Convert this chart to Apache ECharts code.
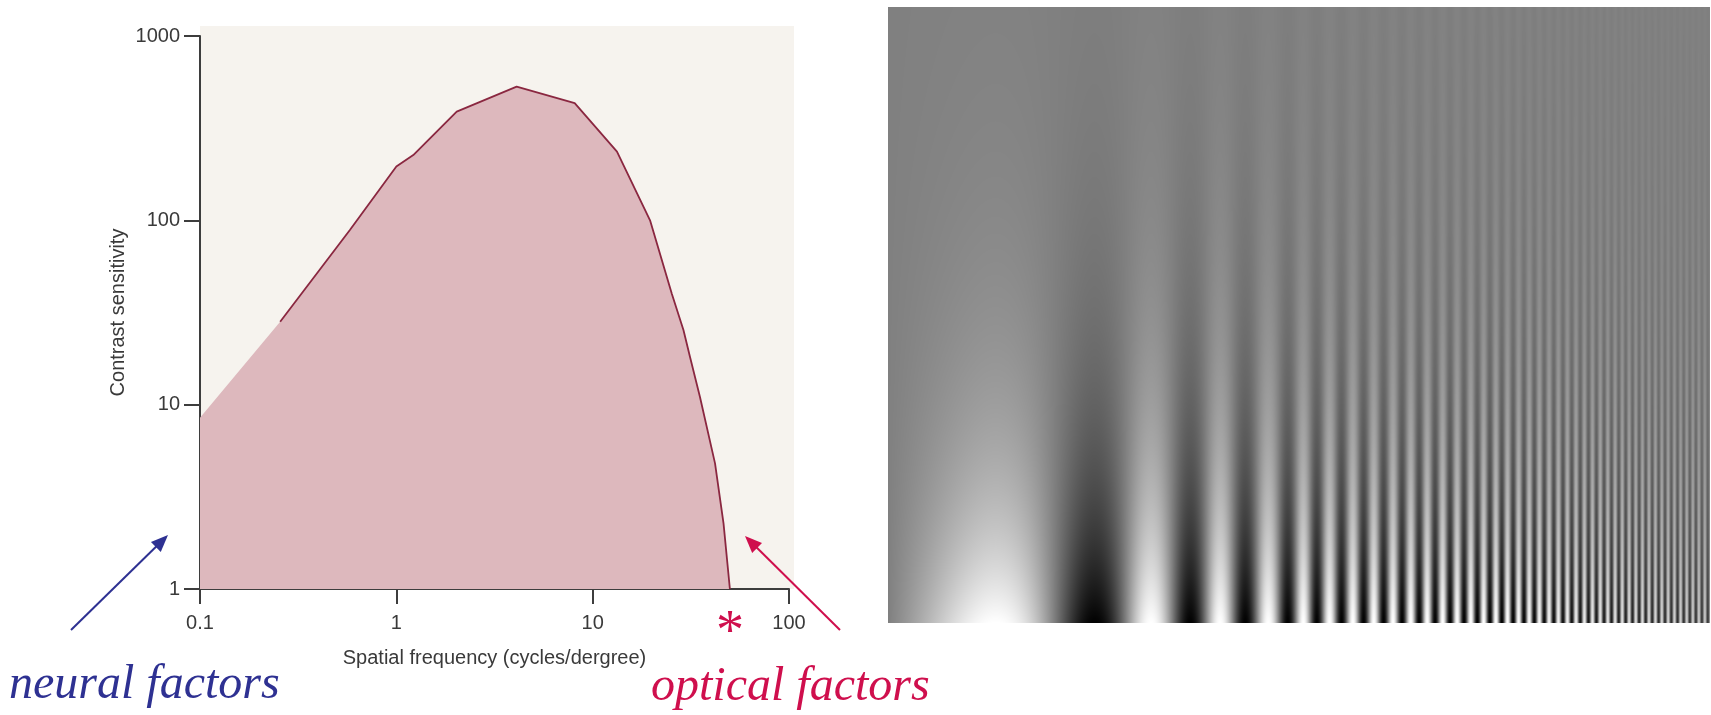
<!DOCTYPE html>
<html><head><meta charset="utf-8">
<script src="https://cdn.jsdelivr.net/npm/echarts@6/dist/echarts.min.js"></script>
<style>html,body{margin:0;padding:0;background:#fff}#c{width:1711px;height:715px}</style>
</head><body><div id="c"></div>
<script>
// ---- data ----
const freqTickLabels = ['0.1', '1', '10', '100'];
const sensTickLabels = ['1', '10', '100', '1000'];
// shaded region (starts at the y axis)
const areaFreq = [0.1, 0.256, 0.58, 1.0, 1.22, 2.03, 4.1, 8.1, 13.3, 19.6, 25.3, 29.0, 31.3, 35.2, 42, 46.4, 50];
const areaSens = [8.5, 28.2, 88.7, 196, 226, 389, 531, 432, 236, 100, 40, 25.4, 18.2, 11.0, 4.8, 2.27, 1];
// drawn curve (starts at ~0.26 c/deg)
const curveFreq = [0.256, 0.58, 1.0, 1.22, 2.03, 4.1, 8.1, 13.3, 19.6, 25.3, 29.0, 31.3, 35.2, 42, 46.4, 50];
const curveSens = [28.2, 88.7, 196, 226, 389, 531, 432, 236, 100, 40, 25.4, 18.2, 11.0, 4.8, 2.27, 1];
// Campbell-Robson grating: local stripe frequency (cycles/px) measured at horizontal offsets (px)
const gratingOffset = [0, 110, 257, 332, 380, 416, 485, 745, 822];
const gratingFreq = [0.0015, 0.0035, 0.0104, 0.0189, 0.0227, 0.036, 0.05, 0.15, 0.17];

// ---- grating picture (illustration) ----
function makeGrating(W, H) {
  const cv = document.createElement('canvas');
  cv.width = W; cv.height = H;
  const ctx = cv.getContext('2d');
  const img = ctx.createImageData(W, H);
  const phase = new Float64Array(W);
  let acc = 0;
  function freqAt(u) {
    for (let i = 0; i < gratingOffset.length - 1; i++) {
      if (u <= gratingOffset[i + 1]) {
        const t = (u - gratingOffset[i]) / (gratingOffset[i + 1] - gratingOffset[i]);
        return Math.exp(Math.log(gratingFreq[i]) * (1 - t) + Math.log(gratingFreq[i + 1]) * t);
      }
    }
    return gratingFreq[gratingFreq.length - 1];
  }
  for (let u = 0; u < W; u++) {
    phase[u] = acc;
    acc += 2 * Math.PI * freqAt(u + 0.5);
  }
  for (let y = 0; y < H; y++) {
    const c = Math.exp(-(H - 1 - y) / 150);
    for (let u = 0; u < W; u++) {
      const h = u < 620 ? 1 : 1 - 0.45 * (u - 620) / (W - 620);
      const v = Math.round(128 + 127 * c * h * Math.sin(phase[u]));
      const k = (y * W + u) * 4;
      img.data[k] = v; img.data[k + 1] = v; img.data[k + 2] = v; img.data[k + 3] = 255;
    }
  }
  ctx.putImageData(img, 0, 0);
  return cv;
}

function arrow(x1, y1, x2, y2, color) {
  const dx = x2 - x1, dy = y2 - y1, L = Math.hypot(dx, dy);
  const ux = dx / L, uy = dy / L, hl = 17, hw = 7;
  const bx = x2 - ux * hl, by = y2 - uy * hl;
  return [
    { type: 'line', shape: { x1: x1, y1: y1, x2: bx + ux * 2, y2: by + uy * 2 }, style: { stroke: color, lineWidth: 2 }, z: 10 },
    { type: 'polygon', shape: { points: [[x2, y2], [bx - uy * hw, by + ux * hw], [bx + uy * hw, by - ux * hw]] }, style: { fill: color }, z: 10 }
  ];
}

const chart = echarts.init(document.getElementById('c'), null, { renderer: 'canvas' });
const textColor = '#3a3a3a';
const axisColor = '#3d3d3d';
const blue = '#2e3192';
const red = '#cf0f4d';
const serif = '"Liberation Serif", "Times New Roman", serif';

chart.setOption({
  animation: false,
  backgroundColor: '#ffffff',
  grid: { left: 200, right: 922, top: 36, bottom: 126, containLabel: false },
  xAxis: {
    type: 'log', logBase: 10, min: 0.1, max: 100, splitNumber: 3,
    name: 'Spatial frequency (cycles/dergree)', nameLocation: 'middle', nameGap: 59,
    nameTextStyle: { fontSize: 20, color: textColor, fontFamily: 'Liberation Sans, Arial, sans-serif' },
    axisLine: { lineStyle: { color: axisColor, width: 2 } },
    axisTick: { length: 15, lineStyle: { color: axisColor, width: 2 } },
    axisLabel: {
      margin: 24, fontSize: 20, color: textColor, fontFamily: 'Liberation Sans, Arial, sans-serif',
      formatter: function (v) { return freqTickLabels[Math.round(Math.log10(v) + 1)]; }
    },
    splitLine: { show: false }, minorTick: { show: false }
  },
  yAxis: {
    type: 'log', logBase: 10, min: 1, max: 1000, splitNumber: 3,
    name: 'Contrast sensitivity', nameLocation: 'middle', nameGap: 72, nameRotate: 90,
    nameTextStyle: { fontSize: 20, color: textColor, fontFamily: 'Liberation Sans, Arial, sans-serif' },
    axisLine: { lineStyle: { color: axisColor, width: 2 } },
    axisTick: { length: 16, lineStyle: { color: axisColor, width: 2 } },
    axisLabel: {
      margin: 20, fontSize: 20, color: textColor, fontFamily: 'Liberation Sans, Arial, sans-serif',
      formatter: function (v) { return sensTickLabels[Math.round(Math.log10(v))]; }
    },
    splitLine: { show: false }, minorTick: { show: false }
  },
  series: [
    {
      type: 'line', silent: true, symbol: 'none', z: 2,
      data: areaFreq.map((f, i) => [f, areaSens[i]]),
      lineStyle: { width: 0 },
      areaStyle: { color: '#ddb8bd', opacity: 1, origin: 'start' }
    },
    {
      type: 'line', silent: true, symbol: 'none', z: 3,
      data: curveFreq.map((f, i) => [f, curveSens[i]]),
      lineStyle: { color: '#8a2740', width: 1.8 }
    }
  ],
  graphic: {
    elements: [
      { type: 'rect', z: -1, shape: { x: 200, y: 26, width: 594, height: 563 }, style: { fill: '#f6f3ee' }, silent: true },
      { type: 'image', z: 1, style: { image: makeGrating(822, 616), x: 888, y: 7, width: 822, height: 616 }, silent: true },
      { type: 'text', z: 10, style: { text: 'neural factors', x: 9, y: 685, fill: blue, font: 'italic 48px ' + serif, textVerticalAlign: 'middle' } },
      { type: 'text', z: 10, style: { text: 'optical factors', x: 651, y: 687, fill: red, font: 'italic 48px ' + serif, textVerticalAlign: 'middle' } },
      { type: 'text', z: 10, style: { text: '*', x: 730, y: 634, fill: red, font: '56px ' + serif, textAlign: 'center', textVerticalAlign: 'middle' } }
    ].concat(arrow(71, 630, 168, 535, blue)).concat(arrow(840, 630, 745, 536, red))
  }
});
</script>
</body></html>
